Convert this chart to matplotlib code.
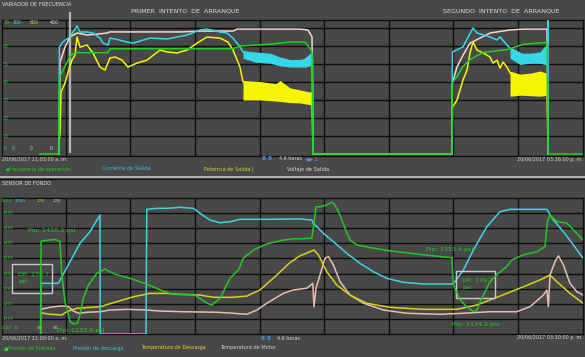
import matplotlib
matplotlib.use("Agg")
import matplotlib.pyplot as plt
from matplotlib.lines import Line2D
from matplotlib.patches import Rectangle

# =========================
# Datos (tiempo en minutos desde el inicio de la ventana)
# =========================
division_t = [33, 65, 97.5, 130, 162, 194.5, 226.5, 259]
cursor_t = 35

# --- Variador de frecuencia ---
vf_freq_t = [20, 29.5, 29.7, 30.8, 34.2, 35.8, 38.7, 54, 55, 116.5, 120, 135, 145, 152.5, 154,
             155.5, 156, 156.5, 226, 226.3, 228.5, 231.5, 235, 241.5, 253.5, 261.5, 273.5, 274, 291.5]
vf_freq = [0, 0, 43, 45, 52.5, 55.3, 56.3, 56.3, 58.5, 58.5, 60, 61, 62.2, 62.2, 60,
           58, 56, 0, 0, 40, 43, 48.6, 52.5, 56.4, 58, 60.9, 62, 0, 0]

vf_corr_t = [29.5, 29.7, 31.5, 35, 38.5, 40, 43.5, 46.5, 50, 51.5, 54, 55, 57.5, 63.5, 66.5,
             75, 83.5, 93.5, 100, 103.5, 110, 113.5, 116.5, 120, 121.5, 135, 150, 155, 156.3,
             156.5, 226, 226.2, 231.5, 236.5, 238.5, 245, 248.5, 250, 253.5, 255, 265, 273.5, 274, 274]
vf_corr = [0, 85, 89, 93, 101.6, 96.8, 96.8, 96, 92, 88, 86.5, 92, 91.3, 88.9, 88,
           92, 91.3, 94.4, 98.4, 99.2, 96.8, 96, 92, 85, 81, 76, 72, 78, 75,
           0, 0, 81, 85, 100, 96, 92.9, 90.5, 92.9, 86.5, 84, 76, 77, 106, 0]
# envolventes de la zona con ruido
vf_corr_b1_t = [121.5, 127.5, 135, 140, 145, 150, 152.5, 155, 156.3]
vf_corr_b1_lo = [76, 73, 72, 70, 69, 69, 69, 70, 70]
vf_corr_b1_hi = [82, 81, 80, 77, 75, 75, 76, 80, 79]
vf_corr_b2_t = [255, 260, 265, 270, 272.5, 273.5]
vf_corr_b2_lo = [76, 71, 72, 72, 71, 71]
vf_corr_b2_hi = [84, 80, 80, 81, 86, 86]

vf_pot_t = [29.25, 29.5, 30, 30.5, 32.5, 34, 36, 37.5, 38.5, 40, 43.5, 46.5, 50, 52.5, 55,
            57.5, 61, 64, 68.5, 73.5, 80, 83.5, 88.5, 93.5, 98.5, 103.5, 110, 114, 116.5, 120,
            121.5, 130, 140, 150, 156, 156.5, 226, 226.3, 228.5, 230, 231.5, 233.5, 235, 236.5,
            238.5, 241.5, 245, 246.5, 248.5, 250, 251.5, 253.5, 255, 265, 273.5, 274]
vf_pot = [0, 52, 105, 295, 338, 390, 447, 471, 557, 509, 519, 481, 414, 400, 457,
          462, 447, 414, 433, 447, 495, 486, 481, 495, 528, 557, 552, 533, 495, 414,
          343, 300, 290, 270, 260, 0, 0, 224, 257, 305, 352, 400, 481, 533,
          495, 481, 462, 433, 447, 409, 438, 414, 386, 330, 330, 0]
vf_pot_b1_t = [121.5, 130, 138, 140, 145, 150, 155, 156]
vf_pot_b1_lo = [257, 257, 252, 250, 245, 243, 235, 230]
vf_pot_b1_hi = [350, 345, 335, 350, 315, 305, 295, 300]
vf_pot_b2_t = [255, 260, 265, 270, 273.5]
vf_pot_b2_lo = [275, 280, 278, 275, 280]
vf_pot_b2_hi = [395, 380, 385, 395, 385]

vf_volt_t = [29.6, 30, 32.5, 35, 38.5, 43.5, 48.5, 53.5, 55, 66.5, 91, 100, 116.5, 118.5, 150,
             154, 156, 156.5, 226, 226.2, 228.5, 231.5, 235, 240, 245, 248.5, 255, 261.5, 270,
             273.5, 274]
vf_volt = [0, 328, 382, 418, 432, 425, 428, 432, 436, 436, 436, 439, 439, 446, 446,
           443, 418, 0, 0, 254, 311, 353, 396, 414, 432, 436, 443, 446, 446,
           446, 0]

# --- Sensor de fondo ---
sf_pip_t = [20.4, 20.5, 20.9, 25, 27.5, 30, 30.9, 32.5, 35, 36.7,
            38.7, 40, 41.7, 44.2, 48.4, 52.5, 55, 57.5, 61.7, 65,
            73.4, 80, 86.7, 96.7, 100, 103.4, 105.9, 110, 115, 119.2,
            121.7, 126.7, 133.4, 141.7, 146.7, 150, 155.9, 157, 158, 160,
            163.4, 165.9, 167.5, 170, 172.5, 175, 178.4, 186.7, 195, 211.7,
            223.4, 225.9, 226.7, 230, 233.4, 236.7, 238.4, 240.9, 245, 249.2,
            253.4, 255.9, 261.7, 268.4, 272.5, 273.7, 275, 278.4, 283.4, 287.5, 291.5]
sf_pip = [1100, 1405, 1408, 1411, 1413, 1406, 1295, 1207, 1141, 1134,
          1135, 1163, 1219, 1262, 1301, 1315, 1306, 1298, 1290, 1284,
          1265, 1246, 1231, 1231, 1218, 1202, 1196, 1218, 1284, 1312,
          1351, 1378, 1398, 1411, 1415, 1415, 1417, 1467, 1521, 1521,
          1527, 1536, 1527, 1494, 1450, 1411, 1395, 1384, 1375, 1362,
          1354, 1353, 1262, 1213, 1190, 1174, 1179, 1218, 1273, 1301,
          1323, 1345, 1362, 1372, 1389, 1472, 1494, 1472, 1467, 1439, 1411]

sf_pd_t = [20.3, 20.4, 29.2, 40, 45, 50, 50.1, 73, 73.4, 78.4, 83.4, 90, 96.7, 100, 105, 110,
           115, 120, 133.4, 150, 155.9, 156.7, 158.4, 161.7, 166.7, 173.4, 180, 186.7, 193.4,
           201.7, 211.7, 225.9, 227.5, 231.7, 236.7, 243.4, 250, 255, 261.7, 273.4, 276.7,
           281.7, 286.7, 291.5]
sf_pd = [0, 1379, 1379, 2467, 2783, 3237, 0, 0, 3392, 3419, 3419, 3446, 3419, 3283, 3101, 3027,
         3055, 3120, 3120, 3130, 3101, 3011, 2919, 2739, 2511, 2195, 1923, 1694, 1515,
         1406, 1360, 1360, 1423, 1741, 2285, 2919, 3327, 3392, 3392, 3392, 3101,
         2783, 2421, 2059]

sf_td_t = [20.4, 25, 30.9, 33.4, 38.4, 50, 58.4, 66.7, 75, 83.4, 90, 100, 106.7, 116.7, 123.4,
           130, 138.4, 145, 150, 157, 159.2, 163.4, 168.4, 175, 183.4, 195, 211.7, 228.4, 238.4,
           245, 253.4, 261.7, 270, 275, 278.4, 285, 291.5]
sf_td = [102.5, 101.6, 101.2, 103.1, 105.1, 106.1, 109.0, 111.9, 113.9, 113.9, 113.3, 112.9,
         111.6, 111.6, 112.3, 115.9, 124.7, 132, 136, 139.4, 136.5, 126.6, 118.8, 112.9, 108.1,
         105.7, 104.5, 104.5, 107.1, 110.0, 113.9, 117.8, 121.8, 124.7, 120.8, 113.9, 108.1]

sf_tm_t = [20.4, 25, 30.9, 34.2, 36.7, 39.2, 43.4, 50, 55, 63.4, 73.4, 80, 91.7, 108.4, 116.7,
           123.4, 128.4, 133.4, 141.7, 146.7, 153.4, 156.4, 157, 158, 160, 162.5, 164.2, 166.7,
           170, 175, 181.7, 191.7, 203.4, 220, 231.7, 245, 258.4, 265, 271.7, 273.4, 274.2, 275,
           277.5, 279.2, 281.7, 285, 288.4, 291.5]
sf_tm = [104.5, 105.7, 106.5, 106.1, 103.5, 102.2, 102.8, 103.1, 104.1, 104.5, 104.1, 103.5,
         103.1, 102.8, 102.2, 101.6, 104.1, 108.1, 113.9, 115.9, 116.9, 119.8, 106.1, 116.9,
         124.7, 134.5, 135.5, 130.6, 120.8, 112.9, 108.1, 104.1, 102.2, 101.6, 102.2, 103.1,
         103.1, 106.1, 112.9, 115.9, 106.1, 124.7, 132.5, 136.0, 130.6, 119.8, 114.9, 112.9]

# anotaciones: (t, valor Pip)
pip_notes = [("Pip: 1410.3 psi", 26, 1441), ("Pip: 1133.6 psi", 40.5, 1113),
             ("Pip: 1353.4 psi", 225, 1378), ("Pip: 1174.2 psi", 238, 1130)]
dp_notes = [("DP: 276.7\npsi", 6, 26, 1236, 1332), ("DP: 179.2\npsi", 228, 247.5, 1219, 1309)]

# =========================
# Estilo
# =========================
W, H = 585, 357
BG = "#484848"
GRID = "#0e0e0e"
NARROW = ["Liberation Sans Narrow", "DejaVu Sans"]
X0, X1 = 1.5, 583
T0, T1 = 0.75, 291.5

fig = plt.figure(figsize=(W / 100, H / 100), dpi=100, facecolor=BG)


def ftext(x, y, s, color, size=3.6, **kw):
    kw.setdefault("family", NARROW)
    fig.text(x / W, 1 - y / H, s, color=color, fontsize=size, va="center", **kw)


def panel(top, bottom, lo, hi, ref_lo, ref_hi, grid_vals):
    ax = fig.add_axes([X0 / W, 1 - bottom / H, (X1 - X0) / W, (bottom - top) / H])
    ax.set_facecolor(BG)
    ax.set_xlim(T0, T1)
    per = (hi - lo) / (ref_lo - ref_hi)
    ax.set_ylim(lo - (bottom - ref_lo) * per, hi + (ref_hi - top) * per)
    ax.set_xticks(division_t)
    ax.set_yticks(grid_vals)
    ax.tick_params(length=0, labelbottom=False, labelleft=False)
    ax.grid(True, color=GRID, lw=1)
    for s in ax.spines.values():
        s.set_color(GRID)
        s.set_linewidth(1)
    return ax


def twin(ax, top, bottom, lo, hi, ref_lo, ref_hi):
    tw = ax.twinx()
    per = (hi - lo) / (ref_lo - ref_hi)
    tw.set_ylim(lo - (bottom - ref_lo) * per, hi + (ref_hi - top) * per)
    tw.axis("off")
    return tw


# =========================
# Panel superior: variador
# =========================
TOP, BOT = 20, 156
ax1 = panel(TOP, BOT, 0, 70, 154, 28, range(10, 80, 10))
a_volt = twin(ax1, TOP, BOT, 0, 450, 154, 28)
a_pot = twin(ax1, TOP, BOT, 0, 600, 154, 28)
a_corr = twin(ax1, TOP, BOT, 0, 100, 154, 28)
a_freq = twin(ax1, TOP, BOT, 0, 70, 154, 28)

ax1.axvline(cursor_t, ymin=(BOT - 152) / (BOT - TOP), ymax=(BOT - 13) / (BOT - TOP),
            color="#b4b4b4", lw=1.6, clip_on=False, zorder=5)

a_volt.plot(vf_volt_t, vf_volt, color="#efd9cc", lw=1.1)
a_pot.plot(vf_pot_t, vf_pot, color="#f5f500", lw=1.1)
a_pot.fill_between(vf_pot_b1_t, vf_pot_b1_lo, vf_pot_b1_hi, color="#f5f500", lw=0)
a_pot.fill_between(vf_pot_b2_t, vf_pot_b2_lo, vf_pot_b2_hi, color="#f5f500", lw=0)
a_corr.plot(vf_corr_t, vf_corr, color="#35d8e8", lw=1.1)
a_corr.fill_between(vf_corr_b1_t, vf_corr_b1_lo, vf_corr_b1_hi, color="#35d8e8", lw=0)
a_corr.fill_between(vf_corr_b2_t, vf_corr_b2_lo, vf_corr_b2_hi, color="#35d8e8", lw=0)
a_freq.plot(vf_freq_t, vf_freq, color="#1ed31e", lw=1.1)

# escala
ytr = ax1.get_yaxis_transform()
for v in range(10, 70, 10):
    ax1.text(0.002, v, str(v), transform=ytr, color="#22cc22", fontsize=3.4,
             family=NARROW, va="center")
for x, lab_top, lab_bot, c in [(4, "70", "0", "#22cc22"), (12, "100", "0", "#35d8e8"),
                               (30, "600", "0", "#d8d830"), (50, "450", "0", "#d8d8d8")]:
    ftext(x, 23, lab_top, c, 3.4)
    ftext(x, 148, lab_bot, c, 3.4)

ftext(2, 5, "VARIADOR DE FRECUENCIA", "#e0e0e0", 3.7)
ftext(185, 11, "PRIMER  INTENTO  DE  ARRANQUE", "#dcdcdc", 4.6, ha="center", family="DejaVu Sans")
ftext(501, 11, "SEGUNDO  INTENTO  DE  ARRANQUE", "#dcdcdc", 4.6, ha="center", family="DejaVu Sans")
ftext(2, 159, "20/06/2017 11:03:00 a. m.", "#d8d8d8", 3.5)
ftext(583, 159, "20/06/2017 03:36:00 p. m.", "#d8d8d8", 3.5, ha="right")
ftext(262, 159, "8", "#4f8fe0", 4.2, weight="bold")
ftext(268, 159, "8", "#4f8fe0", 4.2, weight="bold")
ftext(279, 159, "4.6 horas", "#d8d8d8", 3.5)
ftext(305, 159, "\u25c0\u25b6 2", "#4f8fe0", 3.8, family="DejaVu Sans")
ftext(4, 170, "+", "#22dd22", 5, weight="bold", family="DejaVu Sans")
ftext(9, 169, "Frecuencia de operación", "#22cc22", 3.6)
ftext(102, 169, "Corriente de Salida", "#35c8d8", 3.6)
ftext(204, 169, "Potencia de Salida |", "#d8d830", 3.6)
ftext(287, 169, "Voltaje de Salida", "#e0e0e0", 3.6)

# separador entre paneles
fig.add_artist(Line2D([0, 1], [1 - 176.5 / H] * 2, color="#bdbdbd", lw=1.3))
fig.add_artist(Line2D([0, 1], [1 - 178.5 / H] * 2, color="#151515", lw=1))

# =========================
# Panel inferior: sensor de fondo
# =========================
TOP2, BOT2 = 198, 334
ax2 = panel(TOP2, BOT2, 1100, 1550, 334, 198, range(1150, 1550, 50))
b_tm = twin(ax2, TOP2, BOT2, 90, 170, 334, 198)
b_td = twin(ax2, TOP2, BOT2, 90, 170, 334, 198)
b_pd = twin(ax2, TOP2, BOT2, 0, 3700, 334, 198)
b_pip = twin(ax2, TOP2, BOT2, 1100, 1550, 334, 198)

b_tm.plot(sf_tm_t, sf_tm, color="#e5bfb0", lw=1.1)
b_td.plot(sf_td_t, sf_td, color="#d6d21c", lw=1.1)
b_pd.plot(sf_pd_t, sf_pd, color="#3fd3e0", lw=1.1)
b_pip.plot(sf_pip_t, sf_pip, color="#27c427", lw=1.1)

for txt, t, v in pip_notes:
    b_pip.text(t, v, txt, color="#22cc22", fontsize=4.6, family=NARROW, ha="center", va="center")
for txt, t0, t1, v0, v1 in dp_notes:
    b_pip.add_patch(Rectangle((t0, v0), t1 - t0, v1 - v0, fill=False, ec="#c8c8c8", lw=1))
    b_pip.text(t0 + 3, (v0 + v1) / 2, txt, color="#22cc22", fontsize=4.6, family=NARROW,
               va="center", linespacing=1.5)

ytr2 = ax2.get_yaxis_transform()
for v in range(1150, 1550, 50):
    ax2.text(0.001, v, str(v), transform=ytr2, color="#22cc22", fontsize=3.2,
             family=NARROW, va="center")
for x, lab_top, lab_bot, c in [(1, "1550", "1100", "#22cc22"), (15, "3700", "0", "#35d8e8"),
                               (37, "170", "90", "#d8d830"), (53, "170", "90", "#d8d8d8")]:
    ftext(x, 201, lab_top, c, 3.2)
    ftext(x, 328, lab_bot, c, 3.2)

ftext(2, 184, "SENSOR DE FONDO", "#e0e0e0", 3.6)
ftext(2, 338, "20/06/2017 11:00:00 a. m.", "#d8d8d8", 3.5)
ftext(583, 338, "20/06/2017 03:30:00 p. m.", "#d8d8d8", 3.5, ha="right")
ftext(261, 338, "8", "#4f8fe0", 4.2, weight="bold")
ftext(267, 338, "8", "#4f8fe0", 4.2, weight="bold")
ftext(277, 338, "4.6 horas", "#d8d8d8", 3.5)
ftext(3, 349, "\u25aa", "#22dd22", 5, family="DejaVu Sans")
ftext(8, 348, "Presión de Entrada", "#22cc22", 3.6)
ftext(73, 348, "Presión de descarga", "#35c8d8", 3.6)
ftext(141, 348, "Temperatura de Descarga", "#d8d830", 3.6)
ftext(220, 348, "Temperatura de Motor", "#d0d0d0", 3.6)

fig.savefig("out.png", dpi=100, facecolor=BG)
